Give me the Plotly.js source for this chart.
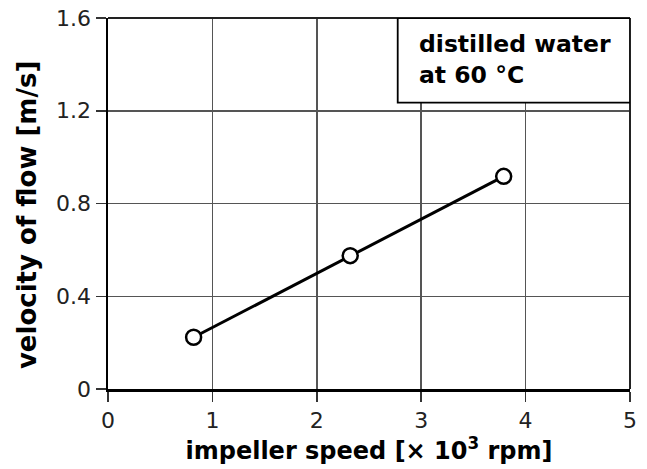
<!DOCTYPE html>
<html>
<head>
<meta charset="utf-8">
<script src="https://cdn.plot.ly/plotly-3.0.1.min.js"></script>
<style>html,body{margin:0;padding:0;background:#fff}#chart{width:647px;height:469px}</style>
</head>
<body>
<div id="chart"></div>
<script>
const impellerSpeed = [0.82, 2.32, 3.79];
const velocity = [0.223, 0.575, 0.917];
const xTicks = [0, 1, 2, 3, 4, 5];
const yTicks = [0, 0.4, 0.8, 1.2, 1.6];
const yTickLabels = ['0', '0.4', '0.8', '1.2', '1.6'];
const xTitle = 'impeller speed [× 10<sup>3</sup> rpm]';
const yTitle = 'velocity of flow [m/s]';
const legendText = 'distilled water<br>at 60 °C';

const font = 'DejaVu Sans, Verdana, sans-serif';

const trace = {
  x: impellerSpeed, y: velocity, type: 'scatter', mode: 'lines+markers',
  line: {color: '#000', width: 3},
  marker: {symbol: 'circle', size: 15, color: '#fff', line: {color: '#000', width: 2.5}},
  cliponaxis: false, hoverinfo: 'none'
};

const layout = {
  width: 647, height: 469,
  margin: {l: 108, r: 17, t: 18, b: 80},
  paper_bgcolor: '#fff', plot_bgcolor: '#fff',
  showlegend: false,
  font: {family: font, color: '#000', size: 22},
  xaxis: {
    range: [0, 5], tickvals: xTicks, ticktext: xTicks.map(String),
    showgrid: true, gridcolor: '#555', gridwidth: 1.5,
    zeroline: false, showline: true, linecolor: '#000', linewidth: 2.5,
    ticks: 'outside', ticklen: 10, tickwidth: 1.5, tickcolor: '#333',
    tickfont: {family: font, size: 22, color: '#222'},
    title: {text: '<b>' + xTitle + '</b>', font: {family: font, size: 24, color: '#000'}, standoff: 5},
    fixedrange: true
  },
  yaxis: {
    range: [0, 1.6], tickvals: yTicks, ticktext: yTickLabels,
    showgrid: true, gridcolor: '#555', gridwidth: 1.5,
    zeroline: false, showline: true, linecolor: '#000', linewidth: 2.5,
    ticks: 'outside', ticklen: 10, tickwidth: 1.5, tickcolor: '#333',
    tickfont: {family: font, size: 22, color: '#222'},
    fixedrange: true
  },
  shapes: [
    {type: 'line', xref: 'paper', yref: 'paper', x0: 0, x1: 1, y0: 1, y1: 1, line: {color: '#222', width: 2}},
    {type: 'line', xref: 'paper', yref: 'paper', x0: 1, x1: 1, y0: 0, y1: 1, line: {color: '#222', width: 2}},
    {type: 'rect', xref: 'x', yref: 'y', x0: 2.775, x1: 5.0, y0: 1.235, y1: 1.6,
     fillcolor: '#fff', line: {color: '#000', width: 1.8}, layer: 'above'}
  ],
  annotations: [
    {xref: 'x', yref: 'y', x: 2.96, y: 1.42, xanchor: 'left', yanchor: 'middle', align: 'left',
     text: '<b>' + legendText + '</b>', showarrow: false,
     font: {family: font, size: 23.5, color: '#000'}},
    {xref: 'paper', yref: 'paper', x: -0.155, y: 0.469, xanchor: 'center', yanchor: 'middle',
     textangle: -90, text: '<b>' + yTitle + '</b>', showarrow: false,
     font: {family: font, size: 26, color: '#000'}}
  ]
};

Plotly.newPlot('chart', [trace], layout, {staticPlot: true, displayModeBar: false});
</script>
</body>
</html>
